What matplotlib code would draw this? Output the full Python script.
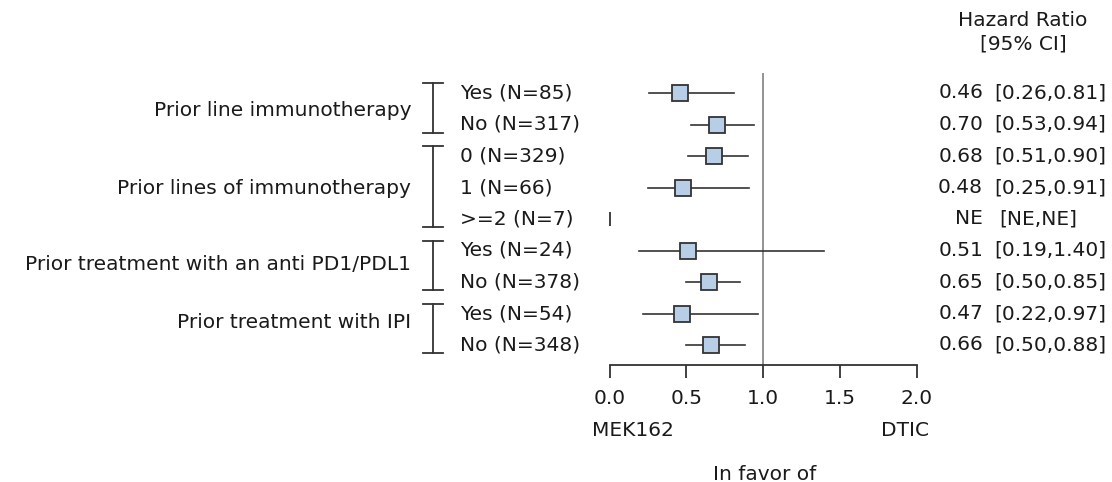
import numpy as np
import matplotlib.pyplot as plt

# -----------------------------
# Data
# -----------------------------
groups = [
    "Prior line immunotherapy",
    "Prior lines of immunotherapy",
    "Prior treatment with an anti PD1/PDL1",
    "Prior treatment with IPI",
]
group_rows = [(0, 1), (2, 4), (5, 6), (7, 8)]

subgroups = [
    "Yes (N=85)", "No (N=317)",
    "0 (N=329)", "1 (N=66)", ">=2 (N=7)",
    "Yes (N=24)", "No (N=378)",
    "Yes (N=54)", "No (N=348)",
]
hr = [0.46, 0.70, 0.68, 0.48, np.nan, 0.51, 0.65, 0.47, 0.66]
ci_lo = [0.26, 0.53, 0.51, 0.25, np.nan, 0.19, 0.50, 0.22, 0.50]
ci_hi = [0.81, 0.94, 0.90, 0.91, np.nan, 1.40, 0.85, 0.97, 0.88]
hr_text = ["0.46", "0.70", "0.68", "0.48", "NE", "0.51", "0.65", "0.47", "0.66"]
ci_text = ["[0.26,0.81]", "[0.53,0.94]", "[0.51,0.90]", "[0.25,0.91]", "[NE,NE]",
           "[0.19,1.40]", "[0.50,0.85]", "[0.22,0.97]", "[0.50,0.88]"]

xticks = [0.0, 0.5, 1.0, 1.5, 2.0]

# -----------------------------
# Layout
# -----------------------------
W, H = 1112, 482
plt.rcParams["font.family"] = "DejaVu Sans"
fs = 14.5
txt_col = "#1a1a1a"
line_col = "#333333"

# group label vertical positions (px from top)
label_y = [110, 188, 265, 322]

fig = plt.figure(figsize=(W / 100, H / 100), dpi=100)


def px(x, y):
    return x / W, 1 - y / H


row0_px, row_step = 93, 31.5
ax_left, ax_right = 609.5, 916.5
ax_top, ax_bot = 73, 365
ax = fig.add_axes([ax_left / W, 1 - ax_bot / H, (ax_right - ax_left) / W, (ax_bot - ax_top) / H])
ax.set_xlim(0, 2)
ax.set_ylim(-(ax_bot - row0_px) / row_step, (row0_px - ax_top) / row_step)

ys = -np.arange(len(subgroups))
for y, h, lo, hi in zip(ys, hr, ci_lo, ci_hi):
    if np.isnan(h):
        # not estimable: small tick at the origin
        ax.plot([0], [y], marker="|", color=line_col, markersize=10, mew=1.3, clip_on=False)
        continue
    ax.plot([lo, hi], [y, y], color=line_col, lw=1.2, zorder=2)
    ax.plot([h], [y], marker="s", markersize=11.5, mfc="#b8cde6", mec=line_col, mew=1.3, zorder=3)

ax.axvline(1.0, color="#8a8a8a", lw=1.3, zorder=1)

for s in ["top", "right", "left"]:
    ax.spines[s].set_visible(False)
ax.spines["bottom"].set_bounds(0, 2)
ax.spines["bottom"].set_color(line_col)
ax.spines["bottom"].set_linewidth(1.3)
ax.set_yticks([])
ax.set_xticks(xticks)
ax.set_xticklabels([f"{t:.1f}" for t in xticks], fontsize=fs, color=txt_col)
ax.tick_params(axis="x", direction="out", length=9, width=1.3, color=line_col, pad=8)
ax.patch.set_alpha(0)

# left labels and brackets
for name, (r0, r1), ly in zip(groups, group_rows, label_y):
    y_top = row0_px + row_step * r0 - 10
    y_bot = row0_px + row_step * r1 + 8
    fig.text(*px(411, ly), name, ha="right", va="center", fontsize=fs, color=txt_col)
    fig.add_artist(plt.Line2D([433 / W, 433 / W], [1 - y_top / H, 1 - y_bot / H], color=line_col, lw=1.3))
    for yy in (y_top, y_bot):
        fig.add_artist(plt.Line2D([423 / W, 443 / W], [1 - yy / H, 1 - yy / H], color=line_col, lw=1.3))

for i, s in enumerate(subgroups):
    yy = row0_px + row_step * i
    fig.text(*px(460, yy), s, ha="left", va="center", fontsize=fs, color=txt_col)
    fig.text(*px(983, yy), hr_text[i], ha="right", va="center", fontsize=fs, color=txt_col)
    fig.text(*px(994 if hr_text[i] != "NE" else 999, yy), ci_text[i], ha="left", va="center",
             fontsize=fs, color=txt_col)

fig.text(*px(1023, 20), "Hazard Ratio", ha="center", va="center", fontsize=fs, color=txt_col)
fig.text(*px(1023, 44), "[95% CI]", ha="center", va="center", fontsize=fs, color=txt_col)

fig.text(*px(592, 430), "MEK162", ha="left", va="center", fontsize=fs, color=txt_col)
fig.text(*px(929, 430), "DTIC", ha="right", va="center", fontsize=fs, color=txt_col)
fig.text(*px(765, 474), "In favor of", ha="center", va="center", fontsize=fs, color=txt_col)

fig.savefig("out.png", dpi=100, facecolor="white")
